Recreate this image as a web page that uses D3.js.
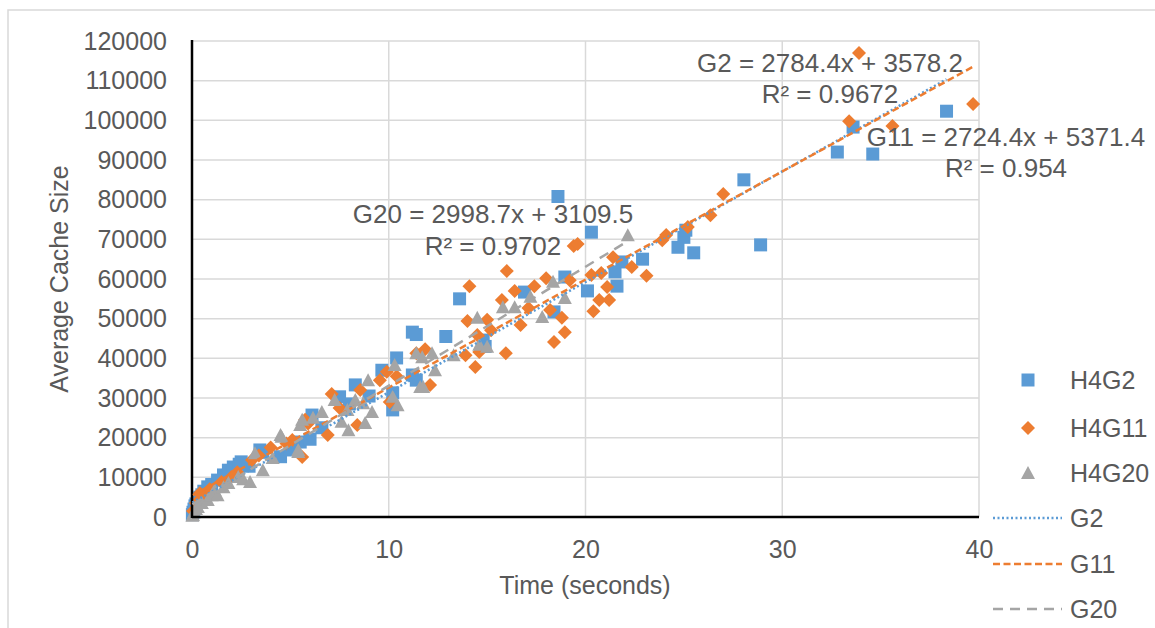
<!DOCTYPE html>
<html>
<head>
<meta charset="utf-8">
<script src="https://cdn.jsdelivr.net/npm/d3@7"></script>
<style>
  html, body { margin: 0; padding: 0; background: #fff; }
  svg text { font-family: "Liberation Sans", Arial, sans-serif; fill: #595959; }
</style>
</head>
<body>
<div id="chart"></div>
<script>
// H4G2 (time in seconds, average cache size)
const h4g2Time = [0.02, 0.05, 0.1, 0.15, 0.2, 0.3, 0.4, 0.5, 0.6, 0.8, 1.0, 1.3, 1.6, 1.85, 2.1, 2.4, 2.5, 2.9,
  3.45, 3.6, 4.5, 5.0, 5.5, 6.0, 6.1, 6.6, 7.5, 8.0, 8.3, 9.0, 9.65, 10.2, 10.2, 10.4, 11.2, 11.4, 11.2, 11.4,
  12.9, 13.6, 14.8, 14.9, 16.9, 18.4, 18.6, 18.95, 20.1, 20.3, 21.5, 21.6, 21.85, 22.9, 24.7, 25.0, 25.1, 25.5,
  28.05, 28.9, 32.8, 33.6, 34.6, 38.35];
const h4g2Cache = [600, 1200, 2000, 2800, 3300, 4200, 5000, 5600, 6500, 7600, 8200, 9300, 10600, 11800, 12600, 13300, 13900, 12800,
  16900, 16300, 15200, 16900, 18900, 19600, 25700, 22500, 30300, 28500, 33300, 30500, 37000, 31300, 27000, 40100, 35800, 34500, 46600, 46000,
  45500, 55000, 44600, 43000, 56700, 51700, 80800, 60500, 57000, 71800, 61800, 58200, 64300, 65000, 68000, 70500, 72300, 66600,
  85000, 68600, 92000, 98300, 91500, 102300];

// H4G11
const h4g11Time = [0.05, 0.2, 0.4, 0.6, 0.9, 1.5, 2.0, 2.3, 3.05, 3.4, 4.0, 4.8, 5.1, 5.6, 5.75, 5.9, 6.9, 7.1, 7.5,
  8.4, 8.55, 9.55, 9.9, 10.05, 10.4, 11.4, 11.85, 12.1, 13.9, 14.0, 14.1, 14.4, 14.5, 14.6, 15.0, 15.2, 15.75, 15.95,
  16.0, 16.4, 16.7, 17.1, 17.4, 18.0, 18.2, 18.4, 18.8, 18.95, 19.2, 19.4, 19.6, 20.3, 20.4, 20.7, 20.8, 21.1, 21.2,
  21.4, 22.35, 23.1, 23.9, 24.1, 25.2, 26.35, 27.0, 33.4, 33.9, 35.6, 39.7];
const h4g11Cache = [1500, 3500, 6000, 5200, 7000, 8800, 10100, 11300, 14400, 15500, 17500, 18500, 19400, 15100, 24500, 23600, 20700, 31000, 27500,
  23200, 32000, 34500, 36600, 29000, 35500, 41300, 42300, 33300, 40800, 49400, 58200, 37800, 45900, 41600, 49700, 47100, 54700, 41300,
  62000, 57000, 48400, 52700, 58200, 60200, 52200, 44100, 50200, 46600, 59700, 68300, 68800, 61000, 51900, 54700, 61500, 58000, 54700,
  65500, 63000, 60800, 69800, 71100, 73100, 76100, 81400, 99800, 117000, 98600, 104100];

// H4G20
const h4g20Time = [0.02, 0.05, 0.1, 0.2, 0.3, 0.5, 0.8, 1.0, 1.15, 1.3, 1.6, 1.85, 2.35, 2.6, 2.95, 3.2, 3.6, 4.1,
  4.5, 4.55, 5.4, 5.4, 5.5, 5.6, 6.15, 6.6, 7.25, 7.6, 7.9, 7.95, 8.3, 8.7, 8.8, 8.95, 9.15, 10.2, 10.3, 10.45,
  11.4, 11.6, 11.7, 11.75, 12.2, 12.35, 13.3, 14.5, 14.6, 15.0, 15.8, 16.4, 17.2, 17.8, 18.35, 18.95, 22.15];
const h4g20Cache = [300, 500, 1200, 2000, 2500, 3500, 4300, 5500, 6800, 5500, 7500, 8600, 10100, 9500, 8800, 16100, 11800, 14900,
  20700, 20200, 16900, 16400, 23200, 24500, 25000, 26500, 29500, 24000, 27000, 21900, 29500, 28700, 23700, 34500, 26500, 30300, 38300, 28200,
  41300, 32800, 40300, 32800, 41300, 37000, 40800, 50200, 43400, 42900, 52900, 52900, 55500, 50400, 59300, 55200, 71000];

// linear trendlines as reported on the chart
const trendNames = ["G2", "G11", "G20"];
const trendSlopes = [2784.4, 2724.4, 2998.7];
const trendIntercepts = [3578.2, 5371.4, 3109.5];
const trendR2 = ["0.9672", "0.954", "0.9702"];

const xTicks = [0, 10, 20, 30, 40];
const yTicks = d3.range(0, 120001, 10000);

const W = 1155, H = 628;
const plot = { left: 192, right: 979, top: 41, bottom: 517 };
const colors = ["#5B9BD5", "#ED7D31", "#A5A5A5"];
const shapes = [
  "M-6.5,-6.5h13v13h-13z",
  "M0,-7L7,0L0,7L-7,0Z",
  "M0,-7L7,6L-7,6Z"
];
const dashes = ["2,2.5", "7,3.5", "10,7"];

const series = [
  { name: "H4G2", xs: h4g2Time, ys: h4g2Cache },
  { name: "H4G11", xs: h4g11Time, ys: h4g11Cache },
  { name: "H4G20", xs: h4g20Time, ys: h4g20Cache }
].map((s, i) => ({
  ...s,
  color: colors[i],
  shape: shapes[i],
  pts: s.xs.map((x, j) => [x, s.ys[j]])
}));

const svg = d3.select("#chart").append("svg").attr("width", W).attr("height", H);

svg.append("rect")
  .attr("x", 8).attr("y", 10)
  .attr("width", W + 20).attr("height", H + 20)
  .attr("fill", "none").attr("stroke", "#d9d9d9").attr("stroke-width", 1.5);

const x = d3.scaleLinear().domain([0, 40]).range([plot.left, plot.right]);
const y = d3.scaleLinear().domain([0, 120000]).range([plot.bottom, plot.top]);

// gridlines
svg.append("g").selectAll("line").data(yTicks.slice(1)).join("line")
  .attr("x1", plot.left).attr("x2", plot.right)
  .attr("y1", (d) => y(d)).attr("y2", (d) => y(d))
  .attr("stroke", "#d9d9d9").attr("stroke-width", 1.5);
svg.append("g").selectAll("line").data(xTicks.slice(1)).join("line")
  .attr("x1", (d) => x(d)).attr("x2", (d) => x(d))
  .attr("y1", plot.top).attr("y2", plot.bottom)
  .attr("stroke", "#d9d9d9").attr("stroke-width", 1.5);

// axes
const yAxis = svg.append("g")
  .attr("transform", "translate(" + plot.left + ",0)")
  .call(d3.axisLeft(y).tickValues(yTicks).tickFormat(d3.format("d")).tickSize(0).tickPadding(25));
const xAxis = svg.append("g")
  .attr("transform", "translate(0," + plot.bottom + ")")
  .call(d3.axisBottom(x).tickValues(xTicks).tickFormat(d3.format("d")).tickSize(0).tickPadding(23));
[xAxis, yAxis].forEach((g) => {
  g.select(".domain").remove();
  g.selectAll("text").style("font-size", "25px").attr("fill", "#595959");
});

// scatter markers
series.forEach((s) => {
  svg.append("g").selectAll("path").data(s.pts).join("path")
    .attr("d", s.shape)
    .attr("transform", (d) => "translate(" + x(d[0]) + "," + y(d[1]) + ")")
    .attr("fill", s.color);
});

// axis lines
svg.append("line")
  .attr("x1", plot.left).attr("x2", plot.left)
  .attr("y1", plot.top - 1).attr("y2", plot.bottom + 1)
  .attr("stroke", "#000").attr("stroke-width", 2.5);
svg.append("line")
  .attr("x1", plot.left).attr("x2", plot.right)
  .attr("y1", plot.bottom).attr("y2", plot.bottom)
  .attr("stroke", "#000").attr("stroke-width", 2.5);

// trendlines over the data range of each series
const line = d3.line().x((d) => x(d)).y((d, i, arr) => 0);
series.forEach((s, i) => {
  const ext = d3.extent(s.xs);
  const pts = ext.map((t) => [x(t), y(trendSlopes[i] * t + trendIntercepts[i])]);
  svg.append("path")
    .attr("d", d3.line()(pts))
    .attr("fill", "none")
    .attr("stroke", s.color)
    .attr("stroke-width", 2.5)
    .attr("stroke-dasharray", dashes[i]);
});

// trendline labels
const labelPos = [
  { cx: 830, y1: 72, y2: 103 },
  { cx: 1006, y1: 146, y2: 177 },
  { cx: 493, y1: 223, y2: 255 }
];
trendNames.forEach((n, i) => {
  const p = labelPos[i];
  svg.append("text")
    .attr("x", p.cx).attr("y", p.y1)
    .attr("text-anchor", "middle").style("font-size", "26px")
    .text(n + " = " + trendSlopes[i] + "x + " + trendIntercepts[i]);
  svg.append("text")
    .attr("x", p.cx).attr("y", p.y2)
    .attr("text-anchor", "middle").style("font-size", "26px")
    .text("R² = " + trendR2[i]);
});

// axis titles
svg.append("text")
  .attr("transform", "translate(68,279) rotate(-90)")
  .attr("text-anchor", "middle").style("font-size", "25px")
  .text("Average Cache Size");
svg.append("text")
  .attr("x", 585).attr("y", 594)
  .attr("text-anchor", "middle").style("font-size", "25px")
  .text("Time (seconds)");

// legend
const legendY = [380, 428, 473, 518, 564, 609];
series.forEach((s, i) => {
  svg.append("path")
    .attr("d", s.shape)
    .attr("transform", "translate(1028," + legendY[i] + ")")
    .attr("fill", s.color);
  svg.append("text")
    .attr("x", 1070).attr("y", legendY[i]).attr("dy", "0.35em")
    .style("font-size", "25px").text(s.name);
});
trendNames.forEach((n, i) => {
  const ly = legendY[i + 3];
  svg.append("line")
    .attr("x1", 993).attr("x2", 1062).attr("y1", ly).attr("y2", ly)
    .attr("stroke", colors[i]).attr("stroke-width", 2.5)
    .attr("stroke-dasharray", dashes[i]);
  svg.append("text")
    .attr("x", 1070).attr("y", ly).attr("dy", "0.35em")
    .style("font-size", "25px").text(n);
});
</script>
</body>
</html>
